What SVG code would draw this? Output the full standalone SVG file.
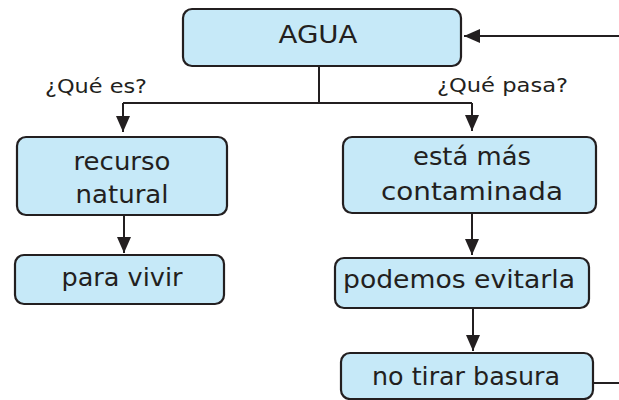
<svg xmlns="http://www.w3.org/2000/svg" width="619" height="400" viewBox="0 0 619 400">
<style>
.box{fill:#c6e9f8;stroke:#231f20;stroke-width:2.2}
.t{font-family:"DejaVu Sans","Liberation Sans",sans-serif;font-size:25px;fill:#231f20;text-anchor:middle}
.lbl{font-family:"DejaVu Sans","Liberation Sans",sans-serif;font-size:20px;fill:#231f20}
.ln{fill:none;stroke:#231f20;stroke-width:2}
</style>
<defs>
<marker id="ah" markerWidth="8" markerHeight="7" refX="8" refY="3.5" orient="auto" markerUnits="strokeWidth">
<path d="M0,0 L8,3.5 L0,7 Z" fill="#231f20"/>
</marker>
</defs>
<g id="connectors">
<path class="ln" d="M319,66 V103"/>
<path class="ln" d="M123,103 H472"/>
<path class="ln" d="M123,103 V132" marker-end="url(#ah)"/>
<path class="ln" d="M472,103 V131" marker-end="url(#ah)"/>
<path class="ln" d="M124,215 V253" marker-end="url(#ah)"/>
<path class="ln" d="M472,213 V255" marker-end="url(#ah)"/>
<path class="ln" d="M473,308 V351" marker-end="url(#ah)"/>
<path class="ln" d="M593,383 H619"/>
<path class="ln" d="M619,36 H464" marker-end="url(#ah)"/>
<text class="lbl" x="45" y="93" textLength="102" lengthAdjust="spacingAndGlyphs">¿Qué es?</text>
<text class="lbl" x="437" y="92" textLength="131" lengthAdjust="spacingAndGlyphs">¿Qué pasa?</text>
</g>
<g id="agua">
<rect class="box" x="183" y="9" width="278" height="57" rx="9"/>
<text class="t" x="318" y="43" textLength="79" lengthAdjust="spacingAndGlyphs">AGUA</text>
</g>
<g id="recurso">
<rect class="box" x="17" y="137" width="210" height="78" rx="9"/>
<text class="t" x="122" y="170" textLength="97" lengthAdjust="spacingAndGlyphs">recurso</text>
<text class="t" x="122" y="203" textLength="93" lengthAdjust="spacingAndGlyphs">natural</text>
</g>
<g id="paravivir">
<rect class="box" x="15" y="255" width="209" height="49" rx="9"/>
<text class="t" x="122" y="286" textLength="121" lengthAdjust="spacingAndGlyphs">para vivir</text>
</g>
<g id="contaminada">
<rect class="box" x="343" y="137" width="253" height="76" rx="9"/>
<text class="t" x="472" y="165" textLength="118" lengthAdjust="spacingAndGlyphs">está más</text>
<text class="t" x="472" y="200" textLength="182" lengthAdjust="spacingAndGlyphs">contaminada</text>
</g>
<g id="evitarla">
<rect class="box" x="335" y="258" width="254" height="50" rx="9"/>
<text class="t" x="459" y="288" textLength="232" lengthAdjust="spacingAndGlyphs">podemos evitarla</text>
</g>
<g id="basura">
<rect class="box" x="341" y="353" width="252" height="46" rx="9"/>
<text class="t" x="466" y="385" textLength="188" lengthAdjust="spacingAndGlyphs">no tirar basura</text>
</g>
</svg>
